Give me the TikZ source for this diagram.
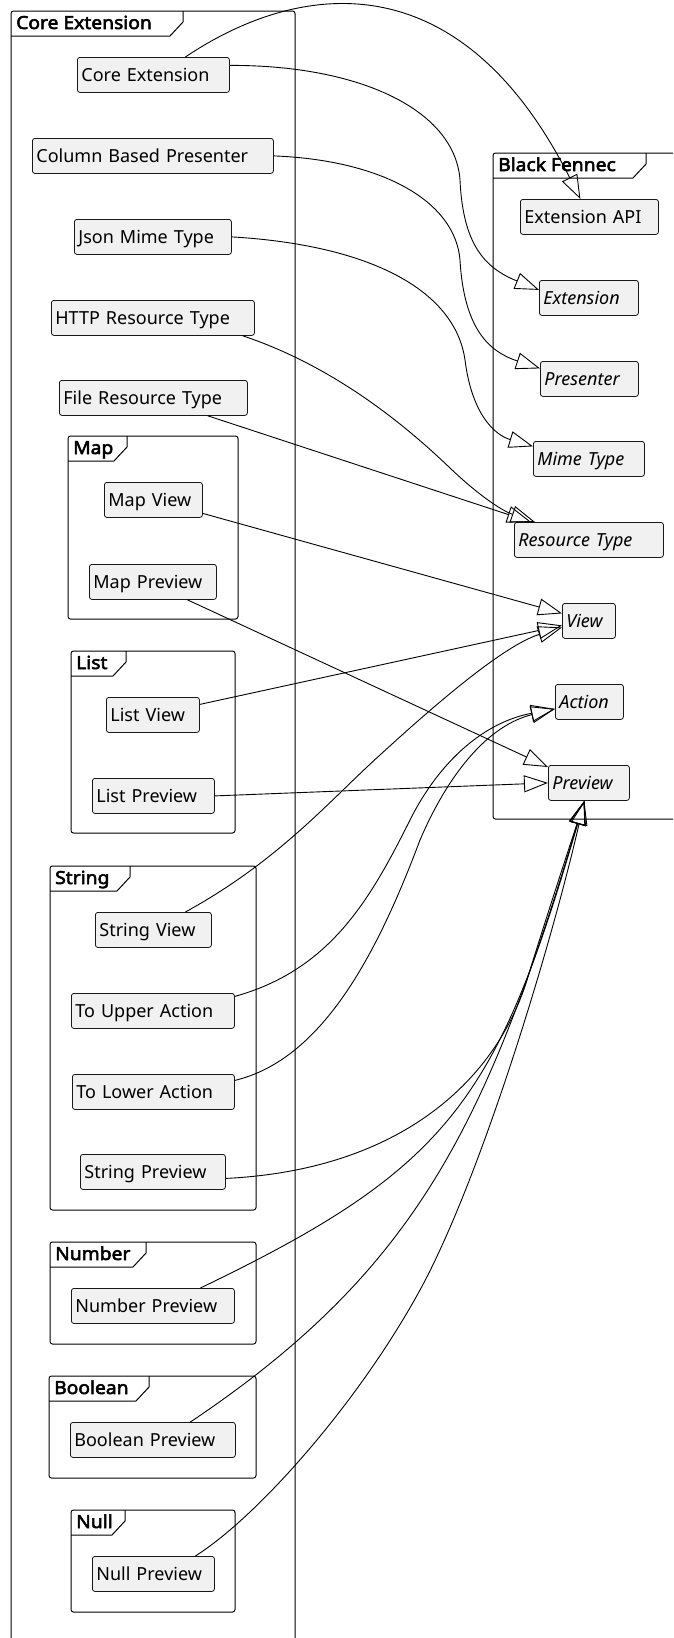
\documentclass[tikz,border=0pt]{standalone}
\usepackage{fontspec}
\setmainfont{Noto Sans}
\newfontfamily\titlefont{Noto Sans}[FakeBold=3, FakeStretch=1.07]
\usetikzlibrary{arrows.meta}
\definecolor{clsfill}{HTML}{F1F1F1}
\definecolor{clsline}{HTML}{181818}

% package frame with its folder tab and bold title
% #1 name, #2 left, #3 top, #4 right, #5 bottom, #6 tab right edge, #7 title
\newcommand{\pkgbox}[7]{%
  \draw[pkg] (#2,#3) rectangle (#4,#5);
  \draw[tab] (#2,#3+25) -- (#6-13,#3+25) -- (#6,#3+11) -- (#6,#3);
  \node[pkglabel] (#1) at (#2+5,#3+18) {#7};
}

\begin{document}
\begin{tikzpicture}[x=1pt,y=-1pt,
  cls/.style={draw=clsline, fill=clsfill, line width=0.8pt, rounded corners=2.5pt,
    anchor=north west, minimum height=35pt, inner xsep=4pt, inner ysep=0pt,
    align=left, text height=15pt, text depth=2pt,
    font=\fontsize{18}{22}\selectfont},
  abs/.style={cls, font=\fontsize{18}{22}\selectfont\itshape},
  pkg/.style={draw=black, line width=1pt, rounded corners=2.5pt},
  tab/.style={draw=black, line width=1pt},
  pkglabel/.style={anchor=base west, inner sep=0pt,
    font=\titlefont\fontsize{18}{22}\selectfont},
  inherit/.style={draw=black, line width=0.9pt,
    -{Triangle[open, length=24pt, width=17pt]}},
]
\useasboundingbox (0,0) rectangle (673,1638);
\fill[white] (0,0) rectangle (673,1638);
\clip (0,0) rectangle (673,1638);

% ---------- packages ----------
\pkgbox{pCore}{11}{11}{295}{1660}{183}{Core Extension}
\pkgbox{pMap}{68}{436}{238}{619}{127}{Map}
\pkgbox{pList}{71}{651}{235}{833}{126}{List}
\pkgbox{pString}{50}{866}{256}{1210}{130}{String}
\pkgbox{pNumber}{50}{1242}{256}{1344}{146}{Number}
\pkgbox{pBoolean}{49}{1376}{256}{1478}{149}{Boolean}
\pkgbox{pNull}{71}{1510}{235}{1612}{125}{Null}
\pkgbox{pFennec}{493}{153}{700}{819}{646}{Black Fennec}

% ---------- Core Extension classes ----------
\node[cls, text width=144pt] (ce)   at (77,57)    {Core Extension};
\node[cls, text width=233pt] (cbp)  at (32,138)   {Column Based Presenter};
\node[cls, text width=149pt] (jmt)  at (74,219)   {Json Mime Type};
\node[cls, text width=195pt] (http) at (51,300)   {HTTP Resource Type};
\node[cls, text width=180pt] (frt)  at (59,380)   {File Resource Type};
\node[cls, text width=90pt]  (mv)   at (104,482)  {Map View};
\node[cls, text width=119pt] (mp)   at (89,564)   {Map Preview};
\node[cls, text width=85pt]  (lv)   at (106,697)  {List View};
\node[cls, text width=114pt] (lp)   at (92,778)   {List Preview};
\node[cls, text width=108pt] (sv)   at (95,912)   {String View};
\node[cls, text width=155pt] (tua)  at (71,993)   {To Upper Action};
\node[cls, text width=154pt] (tla)  at (72,1074)  {To Lower Action};
\node[cls, text width=137pt] (sp)   at (80,1154)  {String Preview};
\node[cls, text width=155pt] (np)   at (71,1288)  {Number Preview};
\node[cls, text width=157pt] (bp)   at (70,1422)  {Boolean Preview};
\node[cls, text width=114pt] (nup)  at (92,1556)  {Null Preview};

% ---------- Black Fennec API ----------
\node[cls, text width=130pt] (api)  at (520,199)  {Extension API};
\node[abs, text width=91pt]  (ext)  at (539,280)  {Extension};
\node[abs, text width=90pt]  (pres) at (540,361)  {Presenter};
\node[abs, text width=103pt] (mime) at (533,441)  {Mime Type};
\node[abs, text width=141pt] (res)  at (514,522)  {Resource Type};
\node[abs, text width=45pt]  (view) at (562,603)  {View};
\node[abs, text width=60pt]  (act)  at (555,684)  {Action};
\node[abs, text width=73pt]  (prev) at (548,765)  {Preview};

% ---------- generalisations ----------
\draw[inherit] ([xshift=32pt]ce.north) .. controls (300,-20) and (460,-40) .. ([xshift=-9pt]api.north);
\draw[inherit] ([yshift=9.5pt]ce.east) .. controls (360,65) and (455,110) .. (460,180)
  .. controls (463,245) and (485,268) .. ([yshift=8pt]ext.west);
\draw[inherit] (cbp.east) .. controls (380,160) and (455,200) .. (460,260)
  .. controls (464,330) and (490,352) .. ([yshift=10.5pt]pres.west);
\draw[inherit] (jmt.east) .. controls (370,245) and (455,290) .. (465,360)
  .. controls (472,415) and (495,435) .. ([yshift=12.5pt]mime.west);
\draw[inherit] ([xshift=-12pt]http.south east) .. controls (330,365) and (400,420) .. (450,468)
  .. controls (475,492) and (500,510) .. ([xshift=21pt]res.north west);
\draw[inherit] ([xshift=-40pt]frt.south east) -- ([xshift=17pt]res.north west);

\draw[inherit] ([yshift=-13.5pt]mv.east) -- ([yshift=7.5pt]view.west);
\draw[inherit] ([yshift=10.5pt]lv.east) -- ([yshift=-4.5pt]view.west);
\draw[inherit] ([xshift=32pt]sv.north) .. controls (280,860) and (330,800) .. (380,755)
  .. controls (440,700) and (505,645) .. ([yshift=-6.5pt]view.west);

\draw[inherit] ([yshift=14.5pt]tua.east) .. controls (330,970) and (370,900) .. (410,820)
  .. controls (440,760) and (485,722) .. ([yshift=-7pt]act.west);
\draw[inherit] ([yshift=11.5pt]tla.east) .. controls (320,1060) and (375,960) .. (420,840)
  .. controls (450,770) and (490,725) .. ([yshift=-7pt]act.west);

\draw[inherit] ([xshift=34.5pt]mp.south) -- ([yshift=-2pt]prev.north west);
\draw[inherit] (lp.east) -- (prev.west);
\draw[inherit] ([yshift=-6.5pt]sp.east) .. controls (400,1170) and (500,1080) .. (530,970)
  .. controls (555,890) and (575,830) .. ([xshift=-4.5pt]prev.south);
\draw[inherit] ([xshift=47.5pt]np.north) .. controls (450,1168) and (497,1100) .. ([xshift=-4.5pt]prev.south);
\draw[inherit] ([xshift=37.5pt]bp.north) .. controls (420,1268) and (488,1120) .. ([xshift=-4.5pt]prev.south);
\draw[inherit] ([xshift=42pt]nup.north) .. controls (260,1515) and (360,1400) .. (420,1290)
  .. controls (480,1180) and (550,950) .. ([xshift=-4.5pt]prev.south);
\end{tikzpicture}
\end{document}
